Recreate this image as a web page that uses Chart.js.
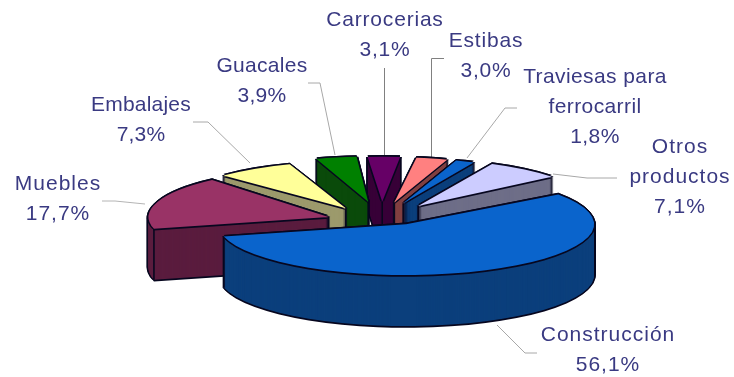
<!DOCTYPE html>
<html>
<head>
<meta charset="utf-8">
<style>
html,body{margin:0;padding:0;background:#fff}
canvas{display:block}
</style>
<script src="https://cdn.jsdelivr.net/npm/chart.js@4"></script>
</head>
<body>
<canvas id="pie" width="734" height="377"></canvas>
<script>
// Wood products by end use, share in percent
const categories = ['Construcción','Muebles','Embalajes','Guacales','Carrocerias','Estibas','Traviesas para\nferrocarril','Otros\nproductos'];
const shares = [56.1,17.7,7.3,3.9,3.1,3.0,1.8,7.1];

const faceColors = ['#0A64CC','#993366','#FFFF99','#008000','#660066','#FF8080','#0A64CC','#CCCCFF'];
const wallColors = ['#0B3F7C','#5A1C3E','#9C9A6C','#0A4A0A','#380038','#803F40','#0B3F7C','#6E6E88'];

// Tilted-disc view of the exploded pie, with per-slice foreshortening
const view = {cx:376, cy:219, tilt:0.27, depth:51, outline:1.7, ink:'#07071F'};
const sliceRadius = [188,180,172,167,167,167,167,172];
const explode = [36,48,50,64,64,64,64,64];
const explodeTurn = [-32,-9,-10,0,0,0,0,0];
const sliceTwist = [0,0,-5,-4,-5,-3.5,-3.5,-3];

// Label placement: centre x, first-line centre y, tracking, and leader polyline
const labelPlacement = [
  {x:608,y:335,track:1,leader:[[497,325],[525,353],[537,353]],tone:'#A8A8A8'},
  {x:58,y:184,track:1,leader:[[102,201],[115,201],[145,204]],tone:'#B4B4B4'},
  {x:141,y:105,track:0.2,leader:[[193,122],[208,122],[250,163]],tone:'#A8A8A8'},
  {x:262,y:66,track:0.3,leader:[[308,83],[320,83],[335,155]],tone:'#A8A8A8'},
  {x:385,y:20,track:0.8,leader:[[384.5,68],[384.5,158]],tone:'#808080'},
  {x:486,y:41,track:0.8,leader:[[444,58.5],[431.5,58.5],[431.5,158]],tone:'#808080'},
  {x:595,y:77,track:0.4,leader:[[517,108],[505,108],[467,158]],tone:'#A8A8A8'},
  {x:680,y:147,track:1,leader:[[617,178],[587,178],[553,174]],tone:'#A8A8A8'}
];
const labelFont = '21px "Liberation Sans", Arial, sans-serif';
const labelColor = '#3A3A82';

const rad = d => d * Math.PI / 180;

function apex(arc, i) {
  const dir = (arc.startAngle + arc.endAngle) / 2 + rad(explodeTurn[i]);
  return [view.cx + explode[i] * Math.cos(dir), view.cy + explode[i] * view.tilt * Math.sin(dir)];
}

function placeSlice(ctx, arc, i) {
  const s = sliceRadius[i] / arc.outerRadius;
  const a = apex(arc, i);
  ctx.translate(a[0], a[1]);
  ctx.scale(s, s * view.tilt);
  ctx.rotate(rad(sliceTwist[i]));
  ctx.translate(-arc.x, -arc.y);
}

function paint(ctx, arc, i, dx, dy, color) {
  const shade = Object.create(arc);
  shade.options = Object.assign({}, arc.options, {backgroundColor:color, borderColor:color, borderWidth:0, offset:0, spacing:0});
  ctx.save();
  ctx.translate(dx, dy);
  placeSlice(ctx, arc, i);
  shade.draw(ctx);
  ctx.restore();
}

function edgeLine(ctx, x, y) {
  ctx.beginPath();
  ctx.moveTo(x, y);
  ctx.lineTo(x, y + view.depth);
  ctx.stroke();
}

const tiltedPie = {
  id: 'tiltedPie',
  beforeDatasetsDraw(chart) {
    const ctx = chart.ctx;
    const arcs = chart.getDatasetMeta(0).data;

    ctx.save();
    ctx.lineWidth = 1;
    labelPlacement.forEach(p => {
      ctx.strokeStyle = p.tone;
      ctx.beginPath();
      p.leader.forEach((pt, k) => k ? ctx.lineTo(pt[0], pt[1]) : ctx.moveTo(pt[0], pt[1]));
      ctx.stroke();
    });
    ctx.restore();

    // Back slices first, so nearer walls cover farther ones
    const order = arcs.map((a, i) => i).sort((p, q) =>
      Math.sin((arcs[p].startAngle + arcs[p].endAngle) / 2) - Math.sin((arcs[q].startAngle + arcs[q].endAngle) / 2));
    const o = view.outline;
    const ring = [[o,0],[-o,0],[0,o],[0,-o]];
    order.forEach(i => {
      const arc = arcs[i];
      for (let d = view.depth; d >= 0; d -= 1) {
        ring.forEach(v => paint(ctx, arc, i, v[0], d + v[1], view.ink));
      }
      for (let d = view.depth; d >= 0; d -= 1) {
        paint(ctx, arc, i, 0, d, wallColors[i]);
      }
      // Vertical edges: the apex, and any rim corner on the near side
      ctx.save();
      ctx.strokeStyle = view.ink;
      ctx.lineWidth = 1.6;
      const a = apex(arc, i);
      edgeLine(ctx, a[0], a[1]);
      [arc.startAngle, arc.endAngle].forEach(angle => {
        if (Math.sin(angle) > 0) {
          const t = angle + rad(sliceTwist[i]);
          edgeLine(ctx, a[0] + sliceRadius[i] * Math.cos(t), a[1] + sliceRadius[i] * view.tilt * Math.sin(t));
        }
      });
      ctx.restore();
      ring.forEach(v => paint(ctx, arc, i, v[0], v[1], view.ink));
      paint(ctx, arc, i, 0, 0, faceColors[i]);
    });
    return false;
  },
  afterDraw(chart) {
    const ctx = chart.ctx;
    ctx.save();
    ctx.font = labelFont;
    ctx.fillStyle = labelColor;
    ctx.textAlign = 'center';
    ctx.textBaseline = 'middle';
    categories.forEach((name, i) => {
      const p = labelPlacement[i];
      ctx.letterSpacing = p.track + 'px';
      const lines = name.split('\n').concat(shares[i].toFixed(1).replace('.', ',') + '%');
      lines.forEach((line, k) => ctx.fillText(line, p.x, p.y + k * 30));
    });
    ctx.restore();
  }
};

new Chart(document.getElementById('pie'), {
  type: 'pie',
  data: {
    labels: categories,
    datasets: [{data: shares, backgroundColor: faceColors, borderWidth: 0}]
  },
  options: {
    responsive: false,
    animation: false,
    rotation: 54,
    layout: {padding: 0},
    plugins: {legend: {display: false}, tooltip: {enabled: false}}
  },
  plugins: [tiltedPie]
});
</script>
</body>
</html>
